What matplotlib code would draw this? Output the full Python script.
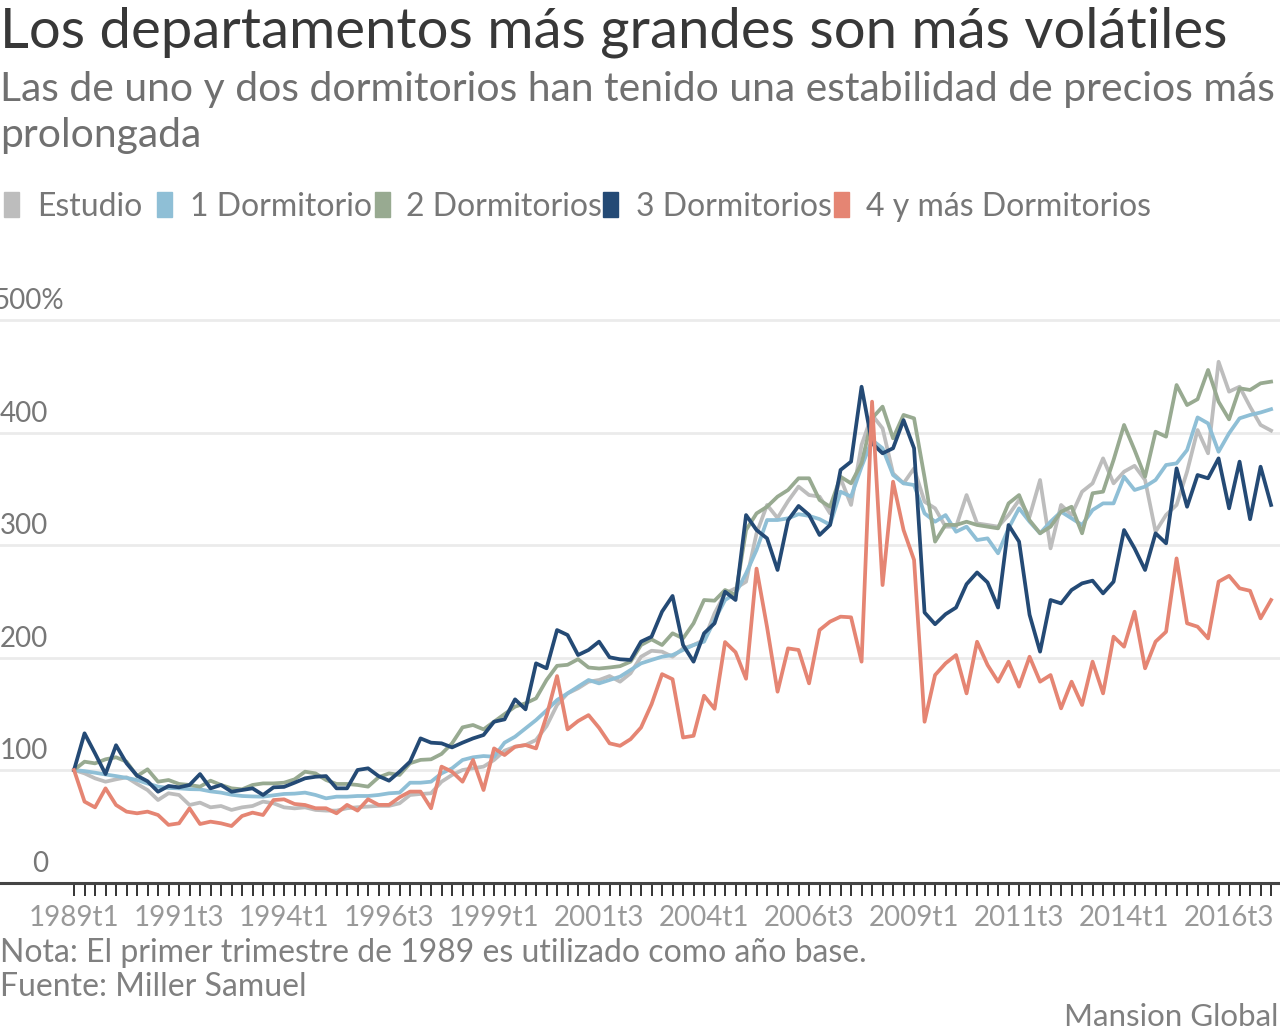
import matplotlib.pyplot as plt
from matplotlib.patches import Rectangle

plt.rcParams['font.family'] = ['Lato', 'DejaVu Sans']

# quarters 1989t1 .. 2017t3
quarters = [f"{y}t{q}" for y in range(1989, 2018) for q in range(1, 5)][:115]

estudio = [
    100, 97, 92.6, 89.6, 91.7, 93.5, 87.6, 82.2, 73.3, 79.3, 77.8, 68.9, 71, 66.8, 68, 64.5, 66.8, 68, 71.9, 70.4, 66.8, 65.9, 66.8,
    64.5, 63.9, 63.9, 66, 66.9, 67.5, 68.1, 68.1, 70.4, 77.8, 78.7, 79.3, 89.6, 95.6, 100, 101.5, 103, 108.9, 117.2, 120.7, 122.2, 126.7,
    139,
    157.8, 168.1, 172.6, 178.5, 180, 183.5, 178.5, 186, 200.7, 206, 205.2, 200.7, 208.1, 211.1, 215.6, 239.3, 257, 261.5, 267.4, 310.4, 335.6, 324, 339,
    351.9, 344.4, 343, 328.1, 359.3, 335.6, 389, 415.6, 403.7, 363.7, 354.8, 368.1, 338.5, 332.6, 316.3, 316.3, 344.4, 319.2, 317.8, 316.3, 326.6, 340, 325.2,
    357.8, 297, 335.6, 326.7, 347.4, 354.8, 377, 354.8, 365.2, 370.4, 357.8, 311.8, 326.7, 335.6, 365.2, 402.2, 381.5, 462.9, 436.3, 440.7, 422.9, 406.7, 401.7,
]

dorm1 = [
    100, 99, 97.6, 96, 94.6, 93, 91.1, 88, 85.2, 84, 83.7, 83, 82.8, 81, 79.9, 78, 76.9, 76.5, 76.3, 77.5, 78.7, 79, 79.9,
    77.8, 74.8, 76.3, 76.3, 76.9, 76.9, 77.8, 79.3, 79.9, 88.7, 88.7, 89.6, 97, 101.5, 108.9, 111.3, 112.4, 111.8, 124.3, 129.6, 137, 144.4,
    153,
    162.2, 168.1, 174.1, 180, 177, 180, 183, 188.9, 194.8, 197.8, 200.7, 202.2, 206.7, 211.1, 214.1, 233.3, 251.1, 257, 274.8, 295.6, 322.2, 322.2, 323.7,
    327.4, 325.9, 323, 318, 347.4, 343, 369.6, 393.3, 386, 362.2, 354.8, 353.3, 328.1, 320.7, 326.6, 311.8, 316.3, 304.4, 305.9, 292.6, 314.8, 332.6, 320.7,
    310.4, 320.7, 329.6, 323.7, 317.8, 331.1, 337, 337, 360.7, 348.9, 351.9, 357.8, 371.1, 372.6, 384.4, 413.4, 408.1, 382.9, 399.3, 412.6, 415.6, 417.8, 420.7,
]

dorm2 = [
    100, 107.4, 105.9, 109.5, 111.3, 107.4, 94.6, 100.6, 89.6, 91.1, 87.6, 86.7, 85.2, 90.5, 86.7, 83.7, 82.8, 86.7, 88.1, 88.1, 88.7, 91.7, 98.5,
    97, 91.1, 87.6, 87.6, 86.7, 85.2, 93.5, 97, 95.6, 106, 109, 109.5, 114.3, 123.7, 137.9, 140, 136.1, 142.9, 149.7, 156.3, 159.3, 163.7,
    180,
    192.6, 193.5, 198.5, 191.1, 190.2, 191.1, 192.3, 196.3, 211.1, 216.1, 211.1, 221.5, 217, 230.4, 251.1, 250.5, 260, 255.5, 313.3, 328.1, 334, 343, 348.9,
    359.3, 359.3, 340, 334, 360.7, 354.8, 372.6, 412.6, 423, 394.8, 415.6, 412.6, 360, 303, 318, 317.8, 320.7, 317.8, 316.3, 314.8, 337, 344.4, 322,
    310.4, 316.3, 329.6, 334, 310.4, 346, 347.4, 375.6, 406.7, 384.4, 360.7, 400.7, 396.3, 442.2, 424.4, 429.6, 455.6, 427.4, 411.7, 439.3, 437.8, 443.7, 445.2,
]

dorm3 = [
    100, 132.6, 114.8, 96.4, 122, 106, 95, 90, 80.7, 85.8, 84.6, 86.7, 96.4, 83.7, 86.7, 80.7, 82.2, 83.7, 77.8, 84.6, 85, 88.7, 92.6,
    94, 94.6, 83.7, 83.7, 100, 101.5, 94.6, 90.5, 98.5, 107.4, 128.1, 124.3, 123.7, 120.1, 124.3, 128.1, 131.1, 142.9, 145, 162.8, 153.9, 194.8,
    190.4,
    224.4, 220, 202.2, 206.7, 214.1, 200.2, 198.4, 197.8, 214.1, 218.5, 240.8, 254.7, 211.1, 196.3, 221.5, 230.4, 258.5, 251.1, 326.6, 313.3, 305.9, 277.8, 322,
    334.7, 326.7, 308.9, 317.8, 366.7, 374.1, 440.7, 390.4, 381.5, 386, 411, 386, 240, 229.6, 238.5, 244.4, 265.2, 275.6, 266.7, 244.4, 317.8, 303, 238,
    205.2, 251.1, 248.1, 260, 265.9, 268.3, 257, 267.4, 313.3, 297, 277.8, 310.4, 301.5, 368.1, 334, 362.2, 359.3, 377, 332.6, 374.1, 322.9, 369.6, 335.6,
]

dorm4 = [
    100, 71.9, 66.8, 83.7, 68.9, 63, 61.5, 63, 60, 51.2, 52.6, 65.9, 52, 54.1, 52.6, 50.2, 59.1, 62.1, 60, 73.3, 73.9, 69.8, 68.9,
    66, 66, 61.5, 69, 63.9, 74, 69, 69, 75.7, 80.8, 80.8, 66, 103, 98.5, 89.6, 108.9, 82.2, 119.2, 113.3, 120.7, 122.2, 119.2,
    148,
    183.5, 136.1, 143.5, 148.8, 137.5, 123.7, 121.5, 127.4, 137.8, 158.5, 185.2, 180.7, 128.9, 130.4, 166, 154.4, 213.7, 204.7, 181.1, 279, 227, 169.6, 208.1,
    206.7, 177, 224.4, 231.9, 236.3, 235.7, 196.3, 427.4, 264.4, 356.3, 313.3, 286.7, 142.9, 184.4, 194.8, 202.2, 168.1, 214, 193.3, 178.5, 196.3, 174.1, 200.7,
    178.5, 184.4, 154.8, 178.5, 157.8, 196.3, 168.1, 218.5, 209.6, 240.7, 190.4, 214.1, 222.9, 288.1, 230.4, 227.4, 217, 267.4, 272.6, 261.5, 259.3, 234.8, 251.1,
]

series_names = ["Estudio", "1 Dormitorio", "2 Dormitorios", "3 Dormitorios", "4 y más Dormitorios"]
series_values = [estudio, dorm1, dorm2, dorm3, dorm4]
colors = ["#bdbdbd", "#8fbfd6", "#98aa91", "#244a75", "#e58573"]

y_ticks = [0, 100, 200, 300, 400, 500]
y_labels = ["0", "100", "200", "300", "400", "500%"]

W, H = 1280, 1032
fig = plt.figure(figsize=(W / 100, H / 100), dpi=100)

# axes box in pixel terms
ax_bottom_px = 882.5
ax_top_px = 297.5
ax = fig.add_axes([0, (H - ax_bottom_px) / H, 1, (ax_bottom_px - ax_top_px) / H])

x = list(range(len(quarters)))
for name, vals, col in zip(series_names, series_values, colors):
    ax.plot(x, vals, color=col, lw=2.7, solid_joinstyle="round", label=name)

ax.set_xlim(-7.05, 114.85)
ax.set_ylim(0, 520)

for yv in y_ticks[1:]:
    ax.axhline(yv, color="#ebebeb", lw=2, zorder=0)

for yv, lab in zip(y_ticks, y_labels):
    if lab.endswith("%"):
        ax.text(-7.7, yv + 5, lab, ha="left", va="bottom", fontsize=20, color="#777777")
    else:
        ax.text(-2.5, yv + 5, lab, ha="right", va="bottom", fontsize=20, color="#777777")

for side in ["top", "right", "left"]:
    ax.spines[side].set_visible(False)
ax.spines["bottom"].set_color("#444444")
ax.spines["bottom"].set_linewidth(2.2)

ax.set_yticks([])
ax.set_xticks(x, minor=True)
ax.set_xticks(x[::10])
ax.set_xticklabels(quarters[::10], fontsize=20, color="#999999")
ax.tick_params(axis="x", which="both", length=9, width=1.4, color="#333333", pad=7)

# title and subtitle
fig.text(0, 1 - 32 / H, "Los departamentos más grandes son más volátiles", ha="left", va="center",
         fontsize=40.5, color="#383838")
fig.text(0, 1 - 90 / H, "Las de uno y dos dormitorios han tenido una estabilidad de precios más",
         ha="left", va="center", fontsize=29.4, color="#707070")
fig.text(0, 1 - 135 / H, "prolongada", ha="left", va="center", fontsize=29.4, color="#707070")

# legend
sq_x = [4, 157, 375, 603, 834]
txt_x = [37, 190, 406, 636, 866]
for sx, tx, name, col in zip(sq_x, txt_x, series_names, colors):
    fig.patches.append(Rectangle((sx / W, 1 - 217 / H), 15 / W, 25 / H, transform=fig.transFigure,
                                 color=col, figure=fig))
    fig.text(tx / W, 1 - 207 / H, name, ha="left", va="center", fontsize=23, color="#777777")

# notes
fig.text(0, 1 - 953 / H, "Nota: El primer trimestre de 1989 es utilizado como año base.",
         ha="left", va="center", fontsize=23, color="#808080")
fig.text(0, 1 - 987 / H, "Fuente: Miller Samuel", ha="left", va="center", fontsize=23,
         color="#808080")
fig.text(1278 / W, 1 - 1017 / H, "Mansion Global", ha="right", va="center", fontsize=22.5,
         color="#808080")

fig.savefig("out.png", dpi=100)
plt.close(fig)
